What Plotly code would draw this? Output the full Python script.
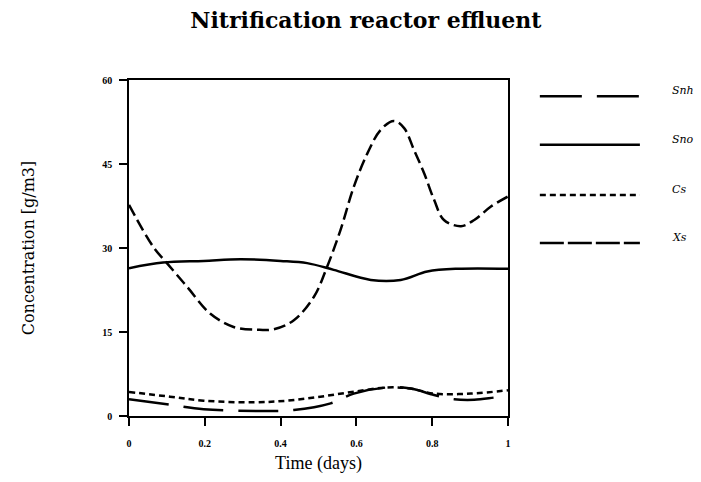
import plotly.graph_objects as go

# ---- data ----
snh_x = [0, 0.1, 0.197, 0.347, 0.435, 0.532, 0.593, 0.682, 0.743, 0.805, 0.858, 0.911, 0.964, 1.0]
snh_y = [3.0, 2.1, 1.2, 0.9, 1.07, 2.26, 4.0, 5.1, 4.9, 3.75, 3.0, 2.9, 3.3, 3.6]

sno_x = [0, 0.09, 0.197, 0.294, 0.4, 0.47, 0.54, 0.638, 0.717, 0.787, 0.867, 1.0]
sno_y = [26.4, 27.4, 27.7, 28.0, 27.7, 27.3, 26.1, 24.3, 24.3, 25.8, 26.3, 26.3]

cs_x = [0, 0.108, 0.197, 0.329, 0.417, 0.505, 0.593, 0.682, 0.743, 0.805, 0.902, 1.0]
cs_y = [4.3, 3.45, 2.74, 2.44, 2.74, 3.45, 4.34, 5.1, 4.9, 4.0, 4.0, 4.6]

xs_x = [0, 0.064, 0.1, 0.153, 0.214, 0.276, 0.338, 0.382, 0.435, 0.488, 0.523, 0.558,
        0.593, 0.629, 0.664, 0.699, 0.726, 0.752, 0.779, 0.805, 0.831, 0.876, 0.911, 0.955, 1.0]
xs_y = [37.7, 30.2, 27.3, 23.1, 18.3, 15.9, 15.4, 15.5, 17.1, 21.3, 26.7, 33.2,
        40.9, 46.9, 51.1, 52.7, 51.4, 47.5, 43.3, 38.6, 35.0, 33.9, 35.0, 37.4, 39.2]

x_ticks = [0, 0.2, 0.4, 0.6, 0.8, 1]
x_tick_labels = ["0", "0.2", "0.4", "0.6", "0.8", "1"]
y_ticks = [0, 15, 30, 45, 60]
y_tick_labels = ["0", "15", "30", "45", "60"]

series_names = ["Snh", "Sno", "Cs", "Xs"]
plot_dash = ["40px,15px", "solid", "6px,4px", "12px,5px"]
legend_dash = ["42px,15px", "solid", "6px,4px", "24px,4px"]

fig = go.Figure()
for name, xv, yv, d in zip(series_names, [snh_x, sno_x, cs_x, xs_x],
                           [snh_y, sno_y, cs_y, xs_y], plot_dash):
    fig.add_trace(go.Scatter(x=xv, y=yv, mode="lines", name=name,
                             line=dict(color="black", width=2.5, dash=d, shape="spline", smoothing=1.0),
                             showlegend=False))

# custom legend (lines + italic labels) to the right of plot
leg_y = [0.952, 0.807, 0.658, 0.515]
for name, d, yy in zip(series_names, legend_dash, leg_y):
    fig.add_shape(type="line", xref="paper", yref="paper", x0=1.084, x1=1.348, y0=yy, y1=yy,
                  line=dict(color="black", width=2.5, dash=d))
    fig.add_annotation(xref="paper", yref="paper", x=1.428, y=yy + 0.017, text="<i>%s</i>" % name,
                       showarrow=False, xanchor="left", yanchor="middle",
                       font=dict(family="DejaVu Serif", size=11, color="black"))

axis_common = dict(showline=True, linecolor="black", linewidth=1.5, mirror=True,
                   ticks="outside", ticklen=8, tickwidth=1.5, tickcolor="black",
                   showgrid=False, zeroline=False,
                   tickfont=dict(family="Liberation Serif", size=10, color="black", weight="bold"))

fig.update_layout(
    width=701, height=482,
    margin=dict(l=129, r=193, t=80, b=66),
    paper_bgcolor="white", plot_bgcolor="white",
    title=dict(text="<b>Nitrification reactor effluent</b>", x=0.522, xanchor="center",
               y=0.958, yanchor="middle",
               font=dict(family="DejaVu Serif", size=22, color="black")),
    xaxis=dict(range=[0, 1], tickvals=x_ticks, ticktext=x_tick_labels,
               title=dict(text="Time (days)", standoff=9,
                          font=dict(family="Liberation Serif", size=18, color="black")),
               ticklabelstandoff=9, **axis_common),
    yaxis=dict(range=[0, 60], tickvals=y_ticks, ticktext=y_tick_labels,
               title=dict(text="Concentration [g/m3]", standoff=64,
                          font=dict(family="DejaVu Serif", size=16, color="black")),
               ticklabelstandoff=5, **axis_common),
    showlegend=False,
)

fig.write_html("out.html")
